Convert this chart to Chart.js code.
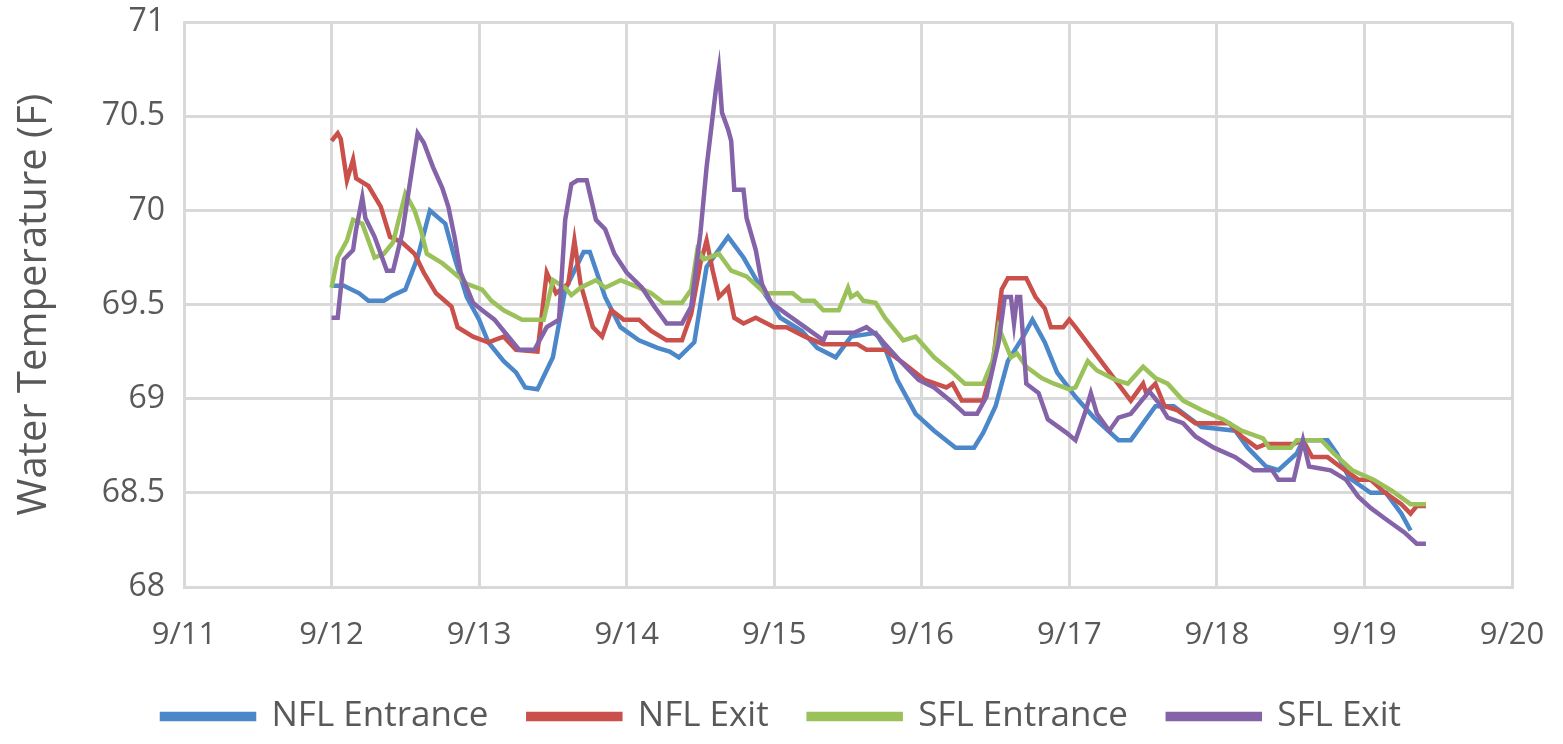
<!DOCTYPE html>
<html>
<head>
<meta charset="utf-8">
<script src="https://cdn.jsdelivr.net/npm/chart.js@4.4.0/dist/chart.umd.min.js"></script>
<style>
  html, body { margin: 0; padding: 0; background: #fff; }
  #wrap { width: 1563px; height: 744px; }
</style>
</head>
<body>
<div id="wrap"><canvas id="tempChart" width="1563" height="744"></canvas></div>
<script>
// x axis labels, one per day starting 9/11
const dayLabels = ['9/11', '9/12', '9/13', '9/14', '9/15', '9/16', '9/17', '9/18', '9/19', '9/20'];

// times are hours after 9/12 00:00, temps in F
const nflEntranceHours = [0, 2, 4.5, 6, 8.5, 10, 12, 14, 16, 18.5, 20, 22, 24, 25.5, 28, 30, 31.5, 33.5, 36, 38, 41, 42, 44.5, 47, 50, 53, 55, 56.5, 59, 61, 64.5, 67, 70, 73, 76.5, 79, 82, 84.5, 88.5, 90, 92, 95, 98, 101.5, 104.5, 106, 108, 110, 112.5, 114, 116, 118, 121, 124, 128, 130, 134, 137, 141.5, 147, 149, 152, 154, 157, 158, 162, 163.5, 165.5, 169, 171.5, 174, 175.5];
const nflEntrance = [69.60, 69.60, 69.56, 69.52, 69.52, 69.55, 69.58, 69.75, 70.00, 69.93, 69.75, 69.54, 69.42, 69.30, 69.20, 69.14, 69.06, 69.05, 69.22, 69.58, 69.78, 69.78, 69.54, 69.38, 69.31, 69.27, 69.25, 69.22, 69.30, 69.70, 69.86, 69.75, 69.58, 69.43, 69.36, 69.27, 69.22, 69.33, 69.35, 69.27, 69.10, 68.92, 68.83, 68.74, 68.74, 68.82, 68.96, 69.20, 69.33, 69.42, 69.30, 69.14, 69.01, 68.90, 68.78, 68.78, 68.96, 68.96, 68.85, 68.83, 68.74, 68.64, 68.62, 68.71, 68.78, 68.78, 68.71, 68.58, 68.50, 68.50, 68.39, 68.30];

const nflExitHours = [0, 1, 1.5, 2.5, 3.5, 4, 6, 8, 9.5, 11.5, 13.5, 15, 17, 19.5, 20.5, 23, 25.5, 28, 30, 33.5, 35, 36.5, 38.5, 39.5, 40.5, 42.5, 44, 45.5, 47.5, 50, 52, 54.5, 57, 58.5, 60, 61, 62, 63, 64.5, 65.5, 67, 69, 72, 74, 77, 80, 85.5, 87, 90, 93, 96.5, 100, 101, 102.5, 106, 107.5, 109, 110, 113, 114.5, 116, 117, 119, 120, 121, 130, 132, 132.5, 134, 135.5, 137.5, 140.5, 146, 148, 150.5, 152, 156.5, 158, 159.5, 162, 164, 167, 169, 171, 174, 175.5, 176.5, 178];
const nflExit = [70.37, 70.41, 70.38, 70.16, 70.27, 70.17, 70.13, 70.02, 69.86, 69.83, 69.77, 69.67, 69.56, 69.49, 69.38, 69.33, 69.30, 69.33, 69.26, 69.25, 69.67, 69.56, 69.61, 69.84, 69.61, 69.38, 69.33, 69.47, 69.42, 69.42, 69.36, 69.31, 69.31, 69.45, 69.72, 69.84, 69.68, 69.54, 69.59, 69.43, 69.40, 69.43, 69.38, 69.38, 69.33, 69.29, 69.29, 69.26, 69.26, 69.19, 69.10, 69.06, 69.08, 68.99, 68.99, 69.17, 69.58, 69.64, 69.64, 69.54, 69.48, 69.38, 69.38, 69.42, 69.38, 68.99, 69.08, 69.03, 69.08, 68.96, 68.94, 68.87, 68.87, 68.80, 68.74, 68.76, 68.76, 68.78, 68.69, 68.69, 68.64, 68.57, 68.57, 68.51, 68.44, 68.39, 68.43, 68.43];

const sflEntranceHours = [0, 1, 2.5, 3.5, 5, 7, 8.5, 10, 12, 13.5, 14.5, 15.5, 18, 19.5, 22, 24.5, 26, 28, 31, 34.5, 36, 38, 39, 40.5, 43, 44.5, 47, 50, 52, 54, 57, 58.5, 59.5, 60.5, 63, 65, 67.5, 70.5, 75, 76.5, 78.5, 80, 82.5, 84, 84.5, 85.5, 86.5, 88.5, 90, 93, 95, 98, 101, 103, 106, 107.5, 108.5, 109.5, 110.5, 111.5, 113, 115.5, 117.5, 120, 121, 123, 124.5, 127.5, 129.5, 132, 134, 136, 138.5, 141.5, 145, 148, 151.5, 152.5, 156, 157, 161, 163, 166, 169.5, 172.5, 175.5, 178];
const sflEntrance = [69.59, 69.75, 69.84, 69.95, 69.93, 69.75, 69.77, 69.83, 70.09, 70.00, 69.90, 69.77, 69.72, 69.68, 69.61, 69.58, 69.52, 69.47, 69.42, 69.42, 69.63, 69.59, 69.55, 69.59, 69.63, 69.59, 69.63, 69.59, 69.56, 69.51, 69.51, 69.58, 69.79, 69.74, 69.77, 69.68, 69.65, 69.56, 69.56, 69.52, 69.52, 69.47, 69.47, 69.59, 69.54, 69.56, 69.52, 69.51, 69.43, 69.31, 69.33, 69.22, 69.14, 69.08, 69.08, 69.20, 69.38, 69.30, 69.22, 69.24, 69.17, 69.11, 69.08, 69.05, 69.06, 69.20, 69.15, 69.10, 69.08, 69.17, 69.11, 69.08, 68.99, 68.94, 68.89, 68.83, 68.79, 68.74, 68.74, 68.78, 68.78, 68.71, 68.62, 68.57, 68.51, 68.44, 68.44];

const sflExitHours = [0, 1, 2, 3.5, 4, 5, 5.5, 7, 8, 9, 10, 11.5, 13, 14, 15, 16.5, 18, 19, 20, 21, 23, 24.5, 26.5, 28, 30.5, 33, 35, 37, 38, 39, 40, 41.5, 43, 44.5, 46, 48, 50.5, 52.5, 54.5, 57, 58.5, 60, 61, 62.5, 63, 63.5, 64.5, 65, 65.5, 67, 67.5, 69, 70, 71.5, 74, 77, 80, 80.5, 85, 87, 89, 90, 92.5, 95.5, 98, 101, 103, 105, 106.5, 108.5, 109.5, 110.5, 111, 111.5, 112, 113, 115, 116.5, 119.5, 121, 122.5, 123.5, 124.5, 126.5, 128, 130, 133, 134.5, 136, 138.5, 140.5, 143.5, 147, 150, 153, 154, 156.5, 158, 159, 162.5, 165, 167, 169, 171.5, 174.5, 176.5, 178];
const sflExit = [69.43, 69.43, 69.74, 69.79, 69.90, 70.07, 69.96, 69.86, 69.77, 69.68, 69.68, 69.88, 70.20, 70.41, 70.36, 70.23, 70.12, 70.02, 69.86, 69.67, 69.51, 69.47, 69.42, 69.36, 69.26, 69.26, 69.38, 69.42, 69.95, 70.14, 70.16, 70.16, 69.95, 69.90, 69.77, 69.67, 69.59, 69.49, 69.40, 69.40, 69.49, 69.88, 70.23, 70.64, 70.75, 70.52, 70.43, 70.37, 70.11, 70.11, 69.96, 69.79, 69.61, 69.51, 69.45, 69.38, 69.31, 69.35, 69.35, 69.38, 69.33, 69.29, 69.20, 69.10, 69.06, 68.98, 68.92, 68.92, 69.01, 69.30, 69.54, 69.54, 69.40, 69.54, 69.54, 69.08, 69.03, 68.89, 68.82, 68.78, 68.92, 69.03, 68.92, 68.83, 68.90, 68.92, 69.04, 68.98, 68.90, 68.87, 68.80, 68.74, 68.69, 68.62, 68.62, 68.57, 68.57, 68.78, 68.64, 68.62, 68.57, 68.48, 68.42, 68.36, 68.29, 68.23, 68.23];

function toPoints(hours, temps) {
    return hours.map(function(h, i) { return { x: 1 + h / 24, y: temps[i] }; });
}

const textColor = '#595959';
const gridColor = '#d9d9d9';
const fontFamily = "'Open Sans', 'Noto Sans', sans-serif";

function series(label, hours, temps, color, order) {
    return {
        label: label,
        data: toPoints(hours, temps),
        borderColor: color,
        backgroundColor: color,
        borderWidth: 4.5,
        pointRadius: 0,
        tension: 0,
        order: order
    };
}

var ctx = document.getElementById('tempChart').getContext('2d');

var tempChart = new Chart(ctx, {
    type: 'line',
    data: {
        datasets: [
            series('NFL Entrance', nflEntranceHours, nflEntrance, '#4C88C9', 3),
            series('NFL Exit', nflExitHours, nflExit, '#C9504B', 2),
            series('SFL Entrance', sflEntranceHours, sflEntrance, '#9BC25A', 1),
            series('SFL Exit', sflExitHours, sflExit, '#8463A9', 0)
        ]
    },
    options: {
        responsive: false,
        animation: false,
        layout: {
            padding: { top: 4, right: 51, bottom: 0, left: 51 }
        },
        scales: {
            x: {
                type: 'linear',
                min: 0,
                max: 9,
                afterFit: function(scale) { scale.height = 72; },
                ticks: {
                    stepSize: 1,
                    padding: 2,
                    color: textColor,
                    font: { family: fontFamily, size: 31, lineHeight: 3 },
                    callback: function(value) { return dayLabels[value]; }
                },
                grid: { color: gridColor, lineWidth: 3, drawTicks: false },
                border: { color: gridColor, width: 3 }
            },
            y: {
                min: 68,
                max: 71,
                afterFit: function(scale) { scale.width = 133; },
                ticks: {
                    stepSize: 0.5,
                    padding: 19,
                    color: textColor,
                    font: { family: fontFamily, size: 32, lineHeight: 0.2 },
                    callback: function(value) { return String(+value.toFixed(1)); }
                },
                title: {
                    display: true,
                    text: 'Water Temperature (F)',
                    color: textColor,
                    font: { family: fontFamily, size: 40 },
                    padding: { top: -40, bottom: 0 }
                },
                grid: { color: gridColor, lineWidth: 3, drawTicks: false },
                border: { color: gridColor, width: 3 }
            }
        },
        plugins: {
            legend: {
                position: 'bottom',
                labels: {
                    boxWidth: 92,
                    boxHeight: 5,
                    padding: 40,
                    color: textColor,
                    font: { family: fontFamily, size: 35 },
                    sort: function(a, b) { return a.datasetIndex - b.datasetIndex; }
                }
            },
            tooltip: { enabled: false }
        }
    }
});
</script>
</body>
</html>
